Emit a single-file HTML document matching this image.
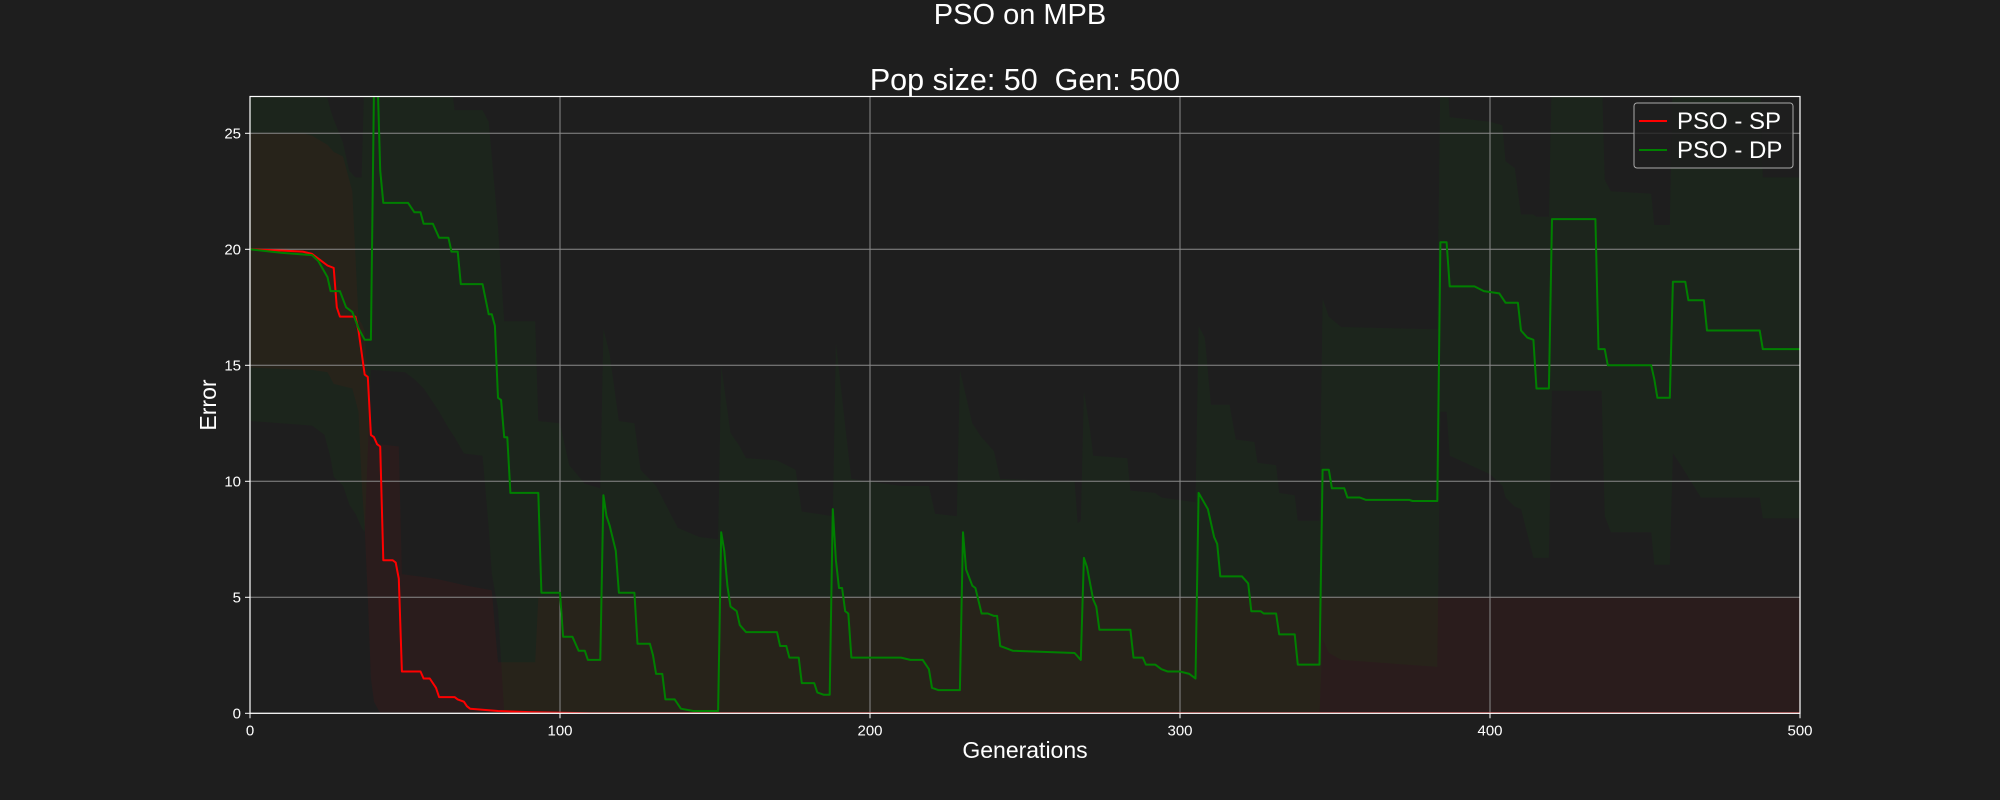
<!DOCTYPE html>
<html><head><meta charset="utf-8"><style>
html,body{margin:0;padding:0;background:#1e1e1e;}
svg{display:block;font-family:"Liberation Sans","DejaVu Sans",sans-serif;}
</style></head><body>
<svg id="chart" width="2000" height="800" viewBox="0 0 2000 800">
<rect x="0" y="0" width="2000" height="800" fill="#1e1e1e"/>
<text x="1020" y="24" fill="#fff" font-size="29" text-anchor="middle">PSO on MPB</text>
<text x="1025" y="90" fill="#fff" font-size="30.5" text-anchor="middle" xml:space="preserve">Pop size: 50  Gen: 500</text>
<text x="1025" y="758" fill="#fff" font-size="23" text-anchor="middle">Generations</text>
<text x="0" y="0" transform="translate(216,405) rotate(-90)" fill="#fff" font-size="23" text-anchor="middle">Error</text>
<defs><clipPath id="pc"><rect x="250" y="96.5" width="1550" height="616"/></clipPath></defs>
<g id="bands" clip-path="url(#pc)"></g>
<g id="grid"></g>
<g id="lines" clip-path="url(#pc)"></g>
<g id="axes"></g>
<g>
<rect x="1634" y="103" width="159" height="65" rx="3" fill="#1e1e1e" fill-opacity="0.8" stroke="#aaa" stroke-width="1"/>
<line x1="1639" y1="121" x2="1667" y2="121" stroke="#ff0000" stroke-width="2"/>
<text x="1677" y="129" fill="#fff" font-size="24">PSO - SP</text>
<line x1="1639" y1="150" x2="1667" y2="150" stroke="#008000" stroke-width="2"/>
<text x="1677" y="158" fill="#fff" font-size="24">PSO - DP</text>
</g>
</svg>
<script>
const xTicks=[0,100,200,300,400,500];
const yTicks=[0,5,10,15,20,25];
const spGen=[0,10,17,20,22,25,27,28,29,34,35,37,38,39,40,41,42,43,46,47,48,49,55,56,58,60,61,66,67,69,70,71,80,90,100,110,500];
const spVal=[20,19.95,19.9,19.8,19.6,19.3,19.2,17.5,17.1,17.1,16.5,14.6,14.5,12,11.9,11.6,11.5,6.6,6.6,6.5,5.8,1.8,1.8,1.5,1.5,1.1,0.7,0.7,0.6,0.5,0.3,0.2,0.1,0.05,0.02,0,0];
const dpGen=[0,10,20,22,25,26,29,31,33,35,37,39,40,41,42,43,51,53,55,56,59,61,64,65,67,68,75,77,78,79,80,81,82,83,84,93,94,100,101,104,106,108,109,113,114,115,116,118,119,124,125,129,130,131,133,134,137,139,143,151,152,153,154,155,157,158,160,170,171,173,174,177,178,182,183,185,187,188,189,190,191,192,193,194,210,213,217,219,220,222,229,230,231,233,234,236,238,240,241,242,244,246,266,268,269,270,272,273,274,284,285,288,289,292,294,296,300,303,305,306,309,311,312,313,320,322,323,326,327,331,332,337,338,345,346,348,349,353,354,358,360,374,375,383,384,386,387,395,398,403,405,409,410,412,414,415,419,420,434,435,437,438,452,453,454,458,459,463,464,469,470,487,488,500];
const dpVal=[20,19.85,19.75,19.5,18.8,18.2,18.2,17.5,17.3,16.6,16.1,16.1,27,28,23.4,22,22,21.6,21.6,21.1,21.1,20.5,20.5,19.9,19.9,18.5,18.5,17.2,17.2,16.7,13.6,13.5,11.9,11.9,9.5,9.5,5.2,5.2,3.3,3.3,2.7,2.7,2.3,2.3,9.4,8.5,8.1,7,5.2,5.2,3,3,2.5,1.7,1.7,0.6,0.6,0.2,0.1,0.1,7.8,7,5.5,4.6,4.4,3.8,3.5,3.5,2.9,2.9,2.4,2.4,1.3,1.3,0.9,0.8,0.8,8.8,6.6,5.4,5.4,4.4,4.3,2.4,2.4,2.3,2.3,1.9,1.1,1,1,7.8,6.2,5.5,5.4,4.3,4.3,4.2,4.2,2.9,2.8,2.7,2.6,2.3,6.7,6.3,4.9,4.6,3.6,3.6,2.4,2.4,2.1,2.1,1.9,1.8,1.8,1.7,1.5,9.5,8.8,7.6,7.3,5.9,5.9,5.6,4.4,4.4,4.3,4.3,3.4,3.4,2.1,2.1,10.5,10.5,9.7,9.7,9.3,9.3,9.2,9.2,9.15,9.15,20.3,20.3,18.4,18.4,18.2,18.1,17.7,17.7,16.5,16.2,16.1,14,14,21.3,21.3,15.7,15.7,15,15,14.4,13.6,13.6,18.6,18.6,17.8,17.8,16.5,16.5,15.7,15.7];
const spBandGen=[0,17,20,25,27,30,33,35,36,37,38,39,40,42,48,49,60,70,78,80,92,93,500];
const spUpper=[25,25,24.9,24.5,24.2,24,22.5,17,16.8,16.5,14,11.6,11.6,11.6,11.5,6,5.8,5.5,5.3,2.2,2.2,5,5];
const spLower=[14.9,14.8,14.8,14.7,14.2,14.1,14,13,10,8,5,1.5,0.5,0,0,0,0,0,0,0,0,0,0];
const dpBandGen=[0,20,24,26,27,30,32,34,36,37,39,50,53,56,58,61,64,66,69,75,77,78,80,82,92,93,100,103,108,113,114,116,119,124,126,131,138,145,151,152,155,158,160,170,176,178,188,189,192,194,210,219,221,228,229,233,236,240,242,266,267,268,269,271,272,283,284,292,294,305,306,308,310,316,318,324,325,331,332,337,338,345,346,348,352,383,384,386,387,400,404,405,408,410,414,415,419,420,436,437,439,452,453,458,459,462,468,487,488,500];
const dpUpper=[28,28,27,26,25.6,24.6,23.4,23.1,23.1,28,28,28,28,28,28,28,28,26,26,26,25.5,24,21,16.9,16.9,12.6,12.5,10.7,9.9,9.7,16.6,15.5,12.6,12.5,10.5,9.8,8,7.6,7.5,15,12.1,11.5,11,10.9,10.5,8.7,8.5,16,12.4,10.1,9.8,9.8,8.6,8.5,14.8,12.5,11.9,11.3,10.1,10,8.2,8.3,13.9,12.2,11.1,11,9.6,9.5,9.3,9.1,16.7,16.2,13.3,13.3,11.8,11.7,10.8,10.7,9.5,9.4,8.3,8.3,17.9,17.1,16.65,16.55,28,28,25.7,25.5,25.35,23.8,23.5,21.5,21.5,21.4,21.4,28,28,23,22.5,22.4,21.05,21.05,28,28,28,28,23.1,23.1];
const dpLower=[12.6,12.4,12,11,10.2,9.8,9,8.6,8,7.8,14.8,14.7,14.4,14,13.6,13,12.3,11.9,11.2,11.1,8,6,4.5,0,0,0,0,0,0,0,0,0,0,0,0,0,0,0,0,0,0,0,0,0,0,0,0,0,0,0,0,0,0,0,0,0,0,0,0,0,0,0,0,0,0,0,0,0,0,0,0,0,0,0,0,0,0,0,0,0,0,0,3.2,2.6,2.3,2,13,13,11.1,10.3,9.8,9.3,8.9,8.8,6.7,6.7,6.7,13.9,13.9,8.5,7.8,7.8,6.4,6.4,11.2,10.6,9.3,9.3,8.4,8.4];

const X0=250,X1=1800,Y0=713.3,PX=23.2;
const sx=g=>X0+(g/500)*(X1-X0);
const sy=v=>Y0-v*PX;
const NS='http://www.w3.org/2000/svg';
function mk(tag,parent){const e=document.createElementNS(NS,tag);parent.appendChild(e);return e;}
const grid=document.getElementById('grid'),axes=document.getElementById('axes'),bands=document.getElementById('bands'),lines=document.getElementById('lines');

function bandPath(gens,up,lo){
  let d='M'+gens.map((g,i)=>sx(g).toFixed(1)+','+sy(up[i]).toFixed(1)).join('L');
  for(let i=gens.length-1;i>=0;i--) d+='L'+sx(gens[i]).toFixed(1)+','+sy(lo[i]).toFixed(1);
  return d+'Z';
}
const bSp=mk('path',bands);
bSp.setAttribute('d',bandPath(spBandGen,spUpper,spLower));
bSp.setAttribute('fill','#ff0000');bSp.setAttribute('fill-opacity','0.055');


const bDp=mk('path',bands);
bDp.setAttribute('d',bandPath(dpBandGen,dpUpper,dpLower));
bDp.setAttribute('fill','#00a000');bDp.setAttribute('fill-opacity','0.055');



xTicks.forEach(t=>{
  const l=mk('line',grid);l.setAttribute('x1',sx(t));l.setAttribute('x2',sx(t));l.setAttribute('y1',96.5);l.setAttribute('y2',Y0);
  l.setAttribute('stroke','#8a8a8a');l.setAttribute('stroke-width','1');
  
  
  const tk=mk('line',axes);tk.setAttribute('x1',sx(t));tk.setAttribute('x2',sx(t));tk.setAttribute('y1',Y0);tk.setAttribute('y2',Y0+5);tk.setAttribute('stroke','#fff');
  
  
  const tx=mk('text',axes);tx.textContent=t;tx.setAttribute('x',sx(t));tx.setAttribute('y',Y0+22);tx.setAttribute('fill','#fff');tx.setAttribute('font-size','15');tx.setAttribute('text-anchor','middle');
  
  
});
yTicks.forEach(t=>{
  const l=mk('line',grid);l.setAttribute('x1',X0);l.setAttribute('x2',X1);l.setAttribute('y1',sy(t));l.setAttribute('y2',sy(t));
  l.setAttribute('stroke','#8a8a8a');l.setAttribute('stroke-width','1');
  
  
  const tk=mk('line',axes);tk.setAttribute('x1',X0-5);tk.setAttribute('x2',X0);tk.setAttribute('y1',sy(t));tk.setAttribute('y2',sy(t));tk.setAttribute('stroke','#fff');
  
  
  const tx=mk('text',axes);tx.textContent=t;tx.setAttribute('x',X0-9);tx.setAttribute('y',sy(t)+5);tx.setAttribute('fill','#fff');tx.setAttribute('font-size','15');tx.setAttribute('text-anchor','end');
  
  
});
function line(gens,vals,color,name){
  const p=mk('polyline',lines);
  p.setAttribute('points',gens.map((g,i)=>sx(g).toFixed(1)+','+sy(vals[i]).toFixed(1)).join(' '));
  p.setAttribute('fill','none');p.setAttribute('stroke',color);p.setAttribute('stroke-width','2');p.setAttribute('stroke-linejoin','round');
  
  
}
line(spGen,spVal,'#ff0000','sp-line');
line(dpGen,dpVal,'#008000','dp-line');
const fr=mk('rect',axes);fr.setAttribute('x',X0);fr.setAttribute('y',96.5);fr.setAttribute('width',X1-X0);fr.setAttribute('height',Y0-96.5);
fr.setAttribute('fill','none');fr.setAttribute('stroke','#fff');fr.setAttribute('stroke-width','1.2');


</script>
</body></html>
